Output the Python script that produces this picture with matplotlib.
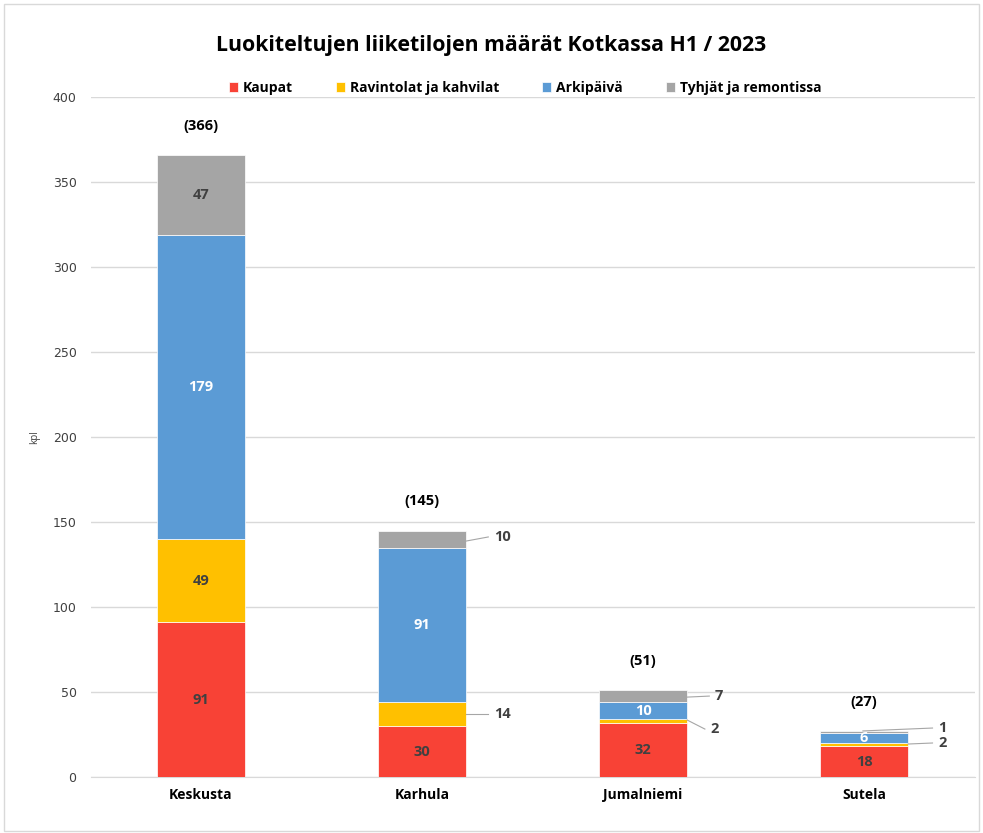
import matplotlib
matplotlib.use("Agg")
import matplotlib.pyplot as plt
from matplotlib.patches import Rectangle
import numpy as np

categories = ["Keskusta", "Karhula", "Jumalniemi", "Sutela"]
series_names = ["Kaupat", "Ravintolat ja kahvilat", "Arkipäivä", "Tyhjät ja remontissa"]
kaupat = [91, 30, 32, 18]
ravintolat = [49, 14, 2, 2]
arkipaiva = [179, 91, 10, 6]
tyhjat = [47, 10, 7, 1]
totals = [366, 145, 51, 27]
yticks = [0, 50, 100, 150, 200, 250, 300, 350, 400]

colors = ["#F84236", "#FFC000", "#5B9BD5", "#A5A5A5"]
label_colors = ["#404040", "#404040", "#FFFFFF", "#404040"]

plt.rcParams['font.family'] = ['Open Sans', 'DejaVu Sans']

fig = plt.figure(figsize=(9.83, 8.33), dpi=100)
W, H = 983, 833
ax = fig.add_axes([90.5 / W, 1 - 777 / H, (974.5 - 90.5) / W, 680 / H])

series = [kaupat, ravintolat, arkipaiva, tyhjat]
x = np.arange(len(categories))
bottom = np.zeros(len(categories))
bars = []
for vals, c, name in zip(series, colors, series_names):
    b = ax.bar(x, vals, width=0.4, bottom=bottom, color=c, label=name,
               edgecolor="white", linewidth=0.5, zorder=3)
    bars.append((b, bottom.copy(), vals))
    bottom += np.array(vals)

ax.set_xlim(-0.5, 3.5)
ax.set_ylim(0, 400)
ax.set_yticks(yticks)
ax.set_xticks(x)
ax.set_xticklabels(categories, fontsize=10, fontweight="bold")
ax.tick_params(axis="y", length=0, pad=10)
ax.tick_params(axis="x", length=0, pad=8)
for lab in ax.get_yticklabels():
    lab.set_color("#404040")
    lab.set_fontfamily("DejaVu Sans")
    lab.set_fontsize(9)
ax.yaxis.grid(True, color="#D9D9D9", linewidth=1, zorder=0)
for s in ["top", "right", "left"]:
    ax.spines[s].set_visible(False)
ax.spines["bottom"].set_color("#D9D9D9")
ax.set_ylabel("kpl", fontsize=7, color="#404040")
ax.yaxis.set_label_coords(-0.057, 0.5)

# inside labels
inside = {(0, 0), (0, 1), (0, 2), (0, 3), (1, 0), (1, 2), (2, 0), (2, 2), (3, 0), (3, 2)}
for si, (b, bot, vals) in enumerate(bars):
    for ci in range(len(categories)):
        if (ci, si) in inside:
            ax.text(x[ci], bot[ci] + vals[ci] / 2, str(vals[ci]), ha="center", va="center",
                    fontsize=10.5, fontweight="bold", color=label_colors[si], zorder=5)

# outside labels with leader lines: (category, series, line start xoff, start y, label y, line end xoff)
outside = [
    (1, 3, 0.2, 138.8, 141.2, 0.3),
    (1, 1, 0.2, 37, 37, 0.3),
    (2, 3, 0.2, 47, 47.6, 0.3),
    (2, 1, 0.2, 33.5, 28.2, 0.28),
    (3, 3, -0.005, 27.1, 28.8, 0.31),
    (3, 1, 0.2, 19.4, 20, 0.31),
]
for ci, si, xs, ys, yl, xe in outside:
    v = series[si][ci]
    ax.plot([x[ci] + xs, x[ci] + xe], [ys, yl], color="#A6A6A6", linewidth=0.8, zorder=4)
    ax.text(x[ci] + xe + 0.025, yl, str(v), ha="left", va="center", fontsize=10.5,
            fontweight="bold", color="#404040", zorder=5)

# totals
for ci, t in enumerate(totals):
    ax.annotate(f"({t})", (x[ci], t), xytext=(0, 21), textcoords="offset points",
                ha="center", va="center", fontsize=10.5, fontweight="bold", color="black")

fig.text(0.5, 1 - 46 / H, "Luokiteltujen liiketilojen määrät Kotkassa H1 / 2023",
         ha="center", va="center", fontsize=15.3, fontweight="bold", color="black")

leg = fig.legend(handles=[bb[0] for bb in bars], labels=series_names, loc="center",
                 bbox_to_anchor=(525 / W, 1 - 88 / H), ncol=4, frameon=False,
                 handlelength=0.65, handleheight=0.65, handletextpad=0.35,
                 columnspacing=3.1, prop={"weight": "bold", "size": 10})

fig.patches.append(Rectangle((4 / W, 2 / H), (W - 8) / W, (H - 6) / H, transform=fig.transFigure,
                             fill=False, edgecolor="#D9D9D9", linewidth=1))

fig.savefig("out.png", dpi=100, facecolor="white")
